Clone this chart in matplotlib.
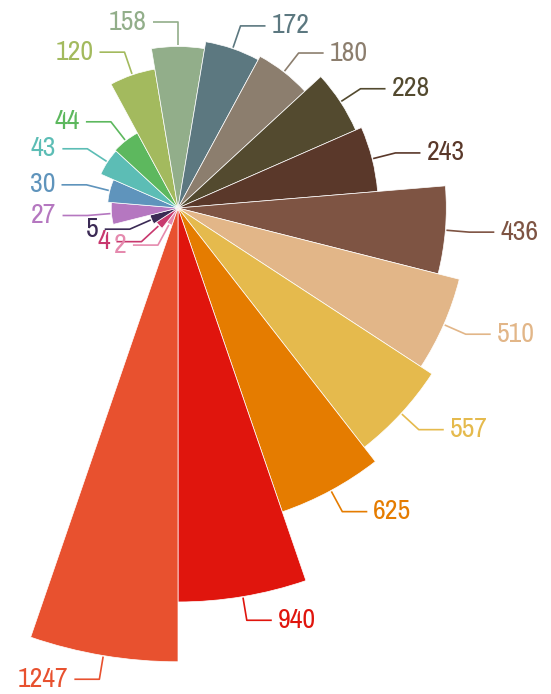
import numpy as np
import matplotlib
matplotlib.use("Agg")
import matplotlib.pyplot as plt
from matplotlib.patches import Wedge
from matplotlib import font_manager

# values, smallest first, drawn clockwise so the biggest one ends pointing down
values = [2, 4, 5, 27, 30, 43, 44, 120, 158, 172, 180, 228, 243, 436, 510, 557, 625, 940, 1247]
colors = ['#E58AAE', '#C8386E', '#3B2A55', '#B577C0', '#5F94BC', '#5CBDB5', '#5DB85E',
          '#A3BA5E', '#92AE8A', '#5C7880', '#8C7E6E', '#534A2F', '#5A382A', '#7E5443',
          '#E2B688', '#E5BA4D', '#E57C00', '#E0150D', '#E8512F']
labels = [str(v) for v in values]

W, H = 551, 694
cx, cy = 178, 208          # centre of the rose in pixels
scale = 12.85               # pixels per sqrt(value)

# a narrow font if one is around, else a plain one at a smaller size
font_kw = dict(family=['Roboto', 'DejaVu Sans'], fontsize=16)
for f in font_manager.fontManager.ttflist:
    nm = f.name.lower()
    if 'narrow' in nm or 'condensed' in nm:
        font_kw = dict(family=[f.name, 'DejaVu Sans'], fontsize=20)
        break
    if f.stretch in ('condensed', 'semi-condensed') and 'mono' not in nm and 'serif' not in nm:
        font_kw = dict(family=[f.name, 'DejaVu Sans'], fontstretch=f.stretch, fontsize=20)

fig = plt.figure(figsize=(W / 100, H / 100), dpi=100)
ax = fig.add_axes([0, 0, 1, 1])
ax.set_xlim(-cx / scale, (W - cx) / scale)
ax.set_ylim(-(H - cy) / scale, cy / scale)
ax.set_aspect('equal')
ax.axis('off')

n = len(values)
step = 360.0 / n
start = 270.0 - step

px = 1.0 / scale
for i, (v, c, lab) in enumerate(zip(values, colors, labels)):
    r = np.sqrt(v)
    a1 = start - (i + 1) * step
    a2 = start - i * step
    ax.add_patch(Wedge((0, 0), r, a1, a2, facecolor=c, edgecolor='white', lw=0.5))

    mid = np.deg2rad((a1 + a2) / 2)
    x0, y0 = (r + 1 * px) * np.cos(mid), (r + 1 * px) * np.sin(mid)
    re = r + 24 * px
    x1, y1 = re * np.cos(mid), re * np.sin(mid)
    side = 1 if np.cos(mid) > 1e-6 else -1
    x2 = x1 + side * 25 * px
    ax.plot([x0, x1, x2], [y0, y1, y1], color=c, lw=1.2, solid_capstyle='butt')
    ax.text(x2 + side * 6 * px, y1, lab, color=c,
            ha='left' if side > 0 else 'right', va='center', **font_kw)

fig.savefig('out.png', dpi=100)
